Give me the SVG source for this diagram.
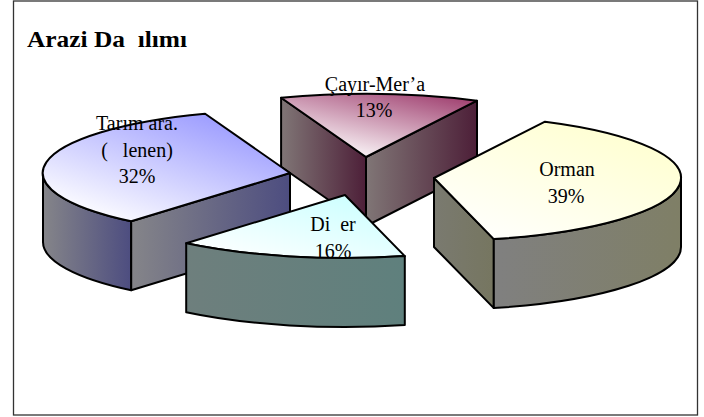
<svg xmlns="http://www.w3.org/2000/svg" width="704" height="417" viewBox="0 0 704 417">
<style>
  .edge { stroke: #000; stroke-width: 2; stroke-linejoin: round; }
  .lbl { font-family: "Liberation Serif", "Times New Roman", serif; font-size: 20px; fill: #000; text-anchor: middle; white-space: pre; }
  .title { font-family: "Liberation Serif", "Times New Roman", serif; font-size: 24px; font-weight: bold; fill: #000; white-space: pre; }
</style>
<defs>
  <linearGradient id="tTop" x1="0.1" y1="0.9" x2="0.8" y2="0.05">
    <stop offset="0" stop-color="#ffffff"/><stop offset="1" stop-color="#9999ff"/>
  </linearGradient>
  <linearGradient id="tSide" x1="0" y1="0" x2="1" y2="0">
    <stop offset="0" stop-color="#858589"/><stop offset="1" stop-color="#4d4d80"/>
  </linearGradient>
  <linearGradient id="cTop" x1="0.3" y1="1" x2="1" y2="0">
    <stop offset="0" stop-color="#ffffff"/><stop offset="1" stop-color="#993366"/>
  </linearGradient>
  <linearGradient id="cSide" x1="0" y1="0" x2="1" y2="0">
    <stop offset="0" stop-color="#807676"/><stop offset="1" stop-color="#4d1f38"/>
  </linearGradient>
  <linearGradient id="dTop" x1="0" y1="0.9" x2="0.8" y2="0">
    <stop offset="0" stop-color="#ffffff"/><stop offset="1" stop-color="#ccffff"/>
  </linearGradient>
  <linearGradient id="dSide" x1="0" y1="0" x2="1" y2="0">
    <stop offset="0" stop-color="#6e7f7d"/><stop offset="1" stop-color="#5f807d"/>
  </linearGradient>
  <linearGradient id="oTop" x1="0.1" y1="1" x2="0.9" y2="0">
    <stop offset="0" stop-color="#ffffff"/><stop offset="1" stop-color="#ffffcc"/>
  </linearGradient>
  <linearGradient id="oSide" x1="0" y1="0" x2="1" y2="0">
    <stop offset="0" stop-color="#808080"/><stop offset="1" stop-color="#7f7f66"/>
  </linearGradient>
  <linearGradient id="oLeft" x1="0" y1="0" x2="1" y2="0">
    <stop offset="0" stop-color="#7a7a70"/><stop offset="1" stop-color="#767660"/>
  </linearGradient>
</defs>
<rect x="13.5" y="1" width="684" height="414" fill="#ffffff" stroke="#333333" stroke-width="1.3"/>
<text class="title" x="27" y="47" textLength="160" lengthAdjust="spacingAndGlyphs" xml:space="preserve">Arazi Da  ılımı</text>

<g id="cayir">
  <path class="edge" fill="url(#cSide)" d="M281.1,97.8 L366,157 L366,226 L281.1,166.8 Z"/>
  <path class="edge" fill="url(#cSide)" d="M366,157 L477,100.7 L477,169.7 L366,226 Z"/>
  <path class="edge" fill="url(#cTop)" d="M366,157 L477,100.7 A247,63 0 0 0 281.1,97.8 Z"/>
  <text class="lbl" x="375" y="91">Çayır-Mer’a</text>
  <text class="lbl" x="374" y="117">13%</text>
</g>

<g id="orman">
  <path class="edge" fill="url(#oLeft)" d="M434,178 L493.8,239.1 L493.8,308.1 L434,247 Z"/>
  <path class="edge" fill="url(#oSide)" d="M493.8,239.1 A247,63 0 0 0 681,178 L681,247 A247,63 0 0 1 493.8,308.1 Z"/>
  <path class="edge" fill="url(#oTop)" d="M434,178 L493.8,239.1 A247,63 0 0 0 545,121.7 Z"/>
  <text class="lbl" x="567" y="176">Orman</text>
  <text class="lbl" x="566" y="203">39%</text>
</g>

<g id="tarim">
  <path class="edge" fill="url(#tSide)" d="M43,173 A247,63 0 0 0 131.2,221.3 L131.2,290.3 A247,63 0 0 1 43,242 Z"/>
  <path class="edge" fill="url(#tSide)" d="M131.2,221.3 L290,173 L290,242 L131.2,290.3 Z"/>
  <path class="edge" fill="url(#tTop)" d="M290,173 L205.1,113.8 A247,63 0 0 0 131.2,221.3 Z"/>
  <text class="lbl" x="137" y="130">Tarım ara.</text>
  <text class="lbl" x="137" y="157" xml:space="preserve">(   lenen)</text>
  <text class="lbl" x="137" y="183">32%</text>
</g>

<g id="diger">
  <path class="edge" fill="url(#dTop)" d="M345,195 L186.2,243.3 A247,63 0 0 0 404.8,256.1 Z"/>
  <text class="lbl" x="333" y="231" xml:space="preserve">Di  er</text>
  <text class="lbl" x="333" y="258">16%</text>
  <path class="edge" fill="url(#dSide)" d="M186.2,243.3 A247,63 0 0 0 404.8,256.1 L404.8,325.1 A247,63 0 0 1 186.2,312.3 Z"/>
</g>

<g id="connectors"></g>
</svg>
